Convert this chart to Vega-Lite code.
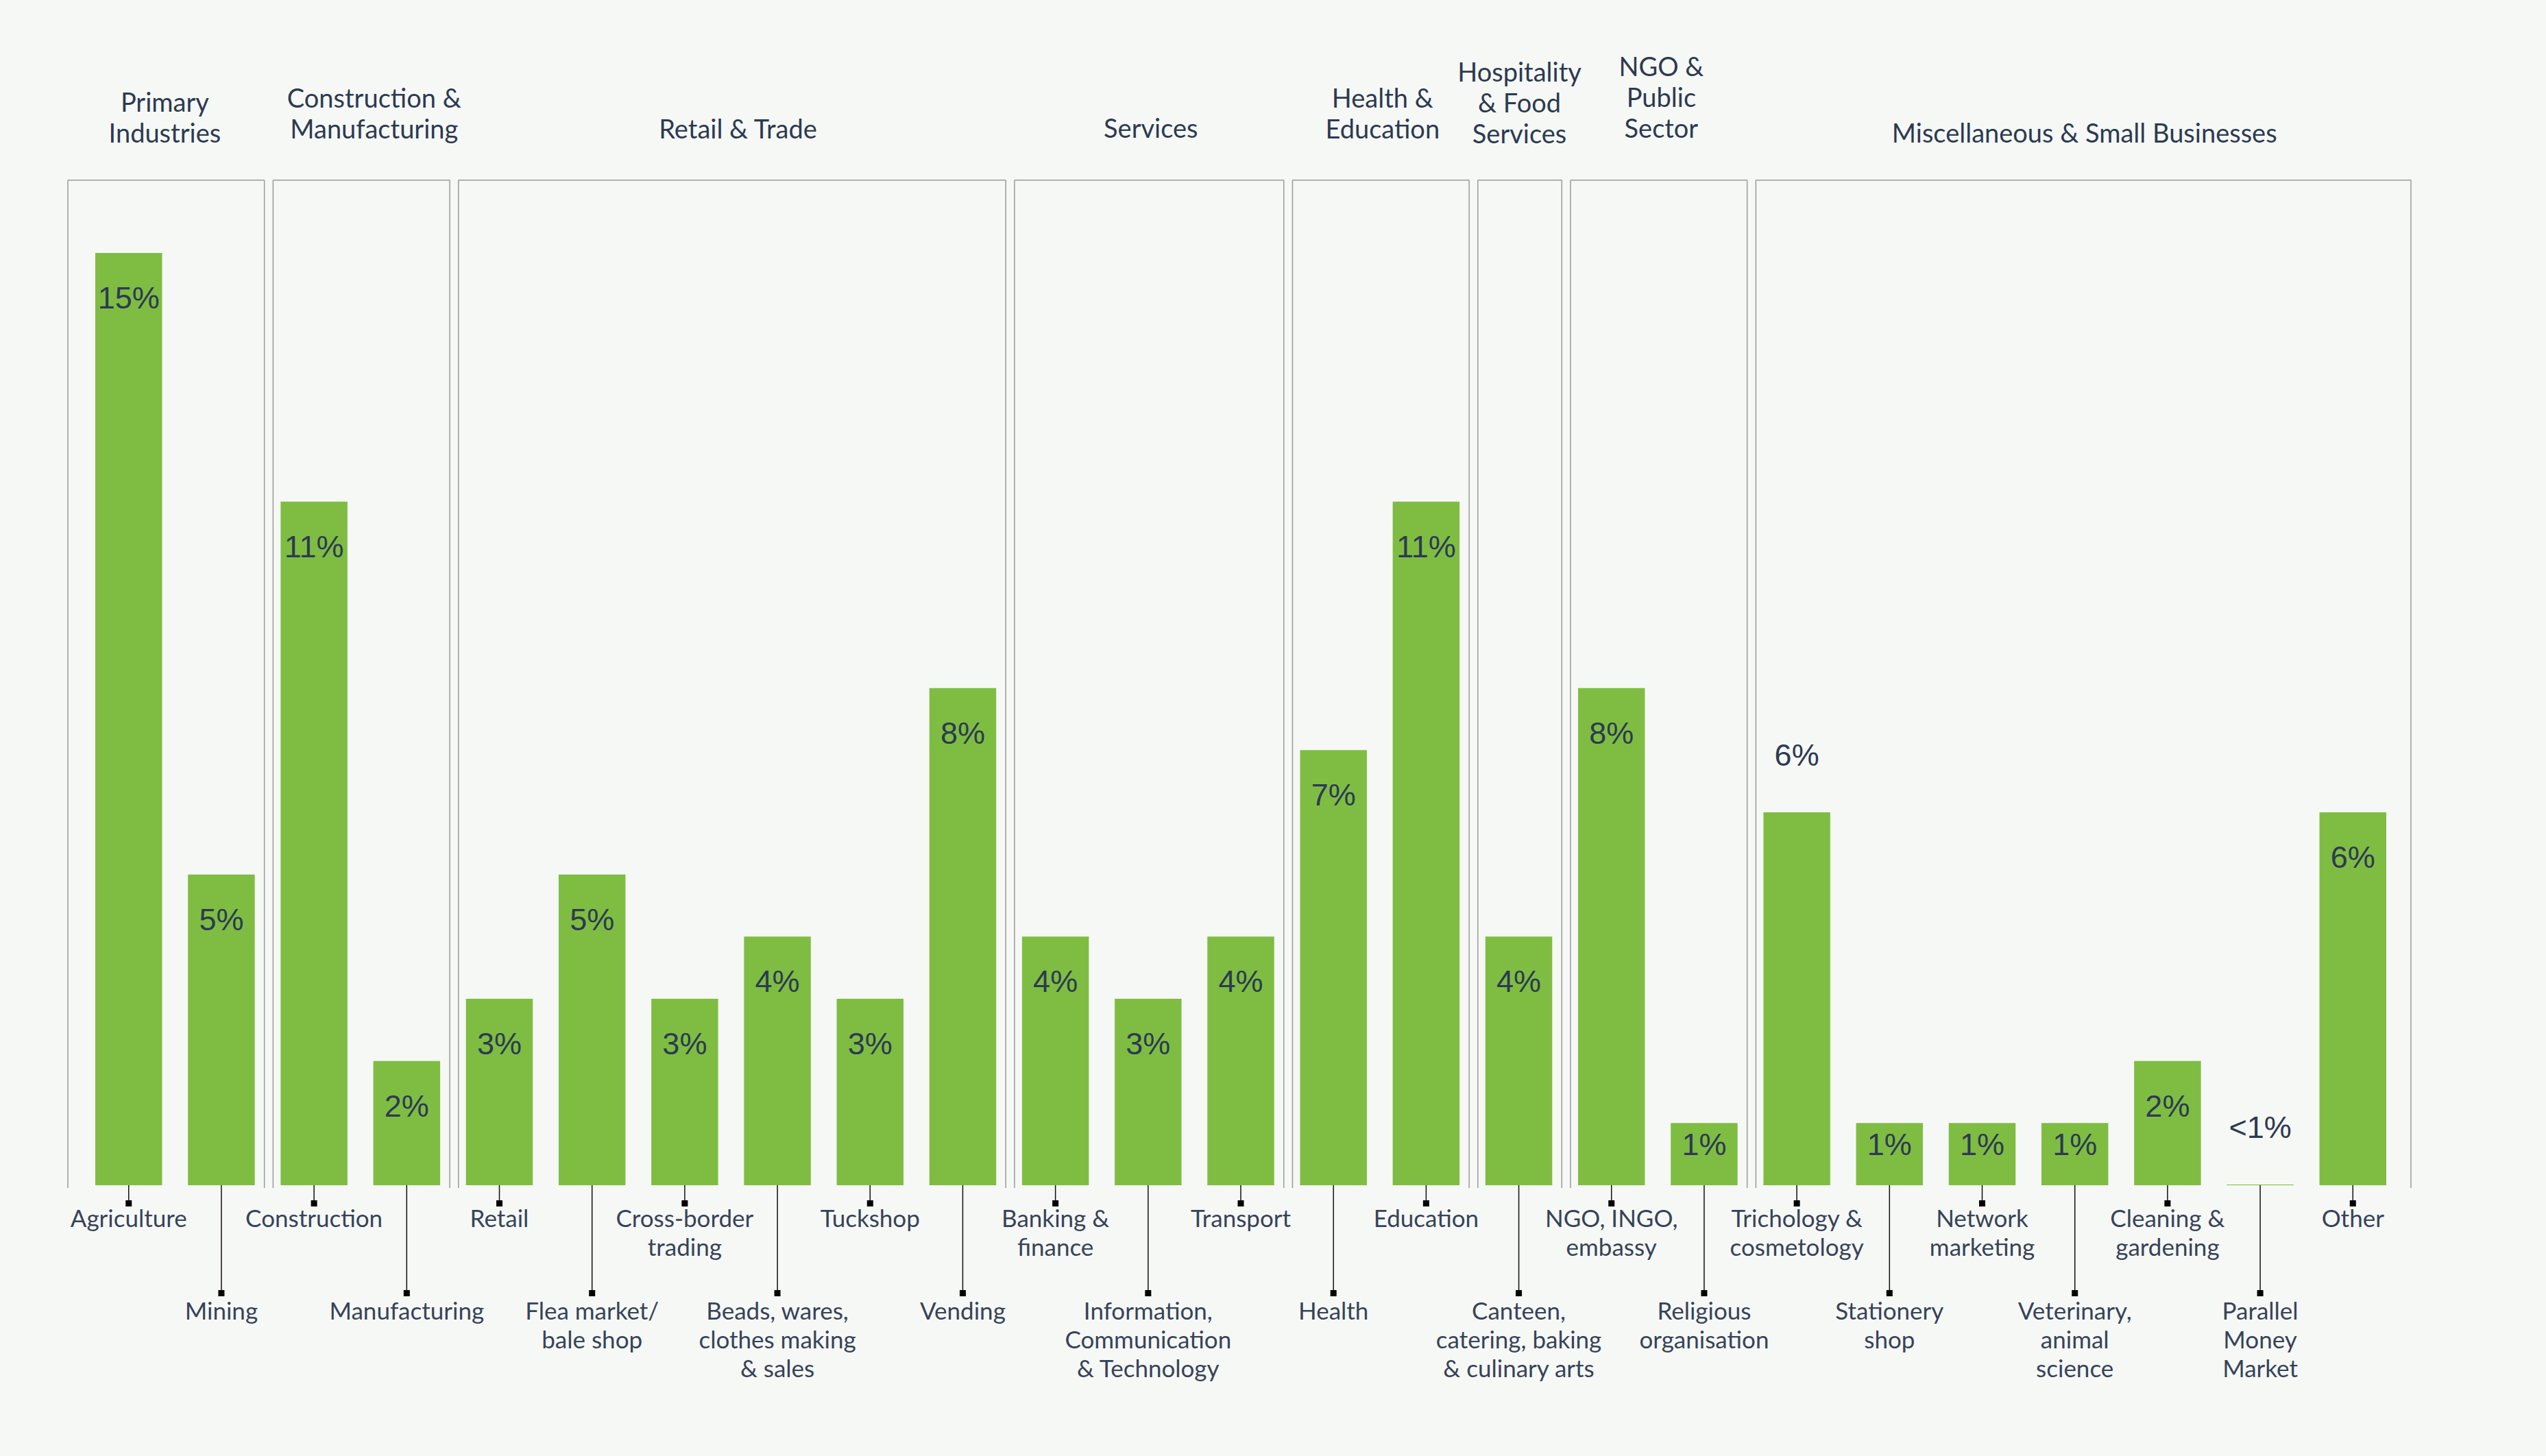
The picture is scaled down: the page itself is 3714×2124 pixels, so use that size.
{
  "$schema": "https://vega.github.io/schema/vega-lite/v6.json",
  "width": 3714,
  "height": 1729,
  "autosize": {"type": "none"},
  "padding": {"left": 0, "top": 0, "right": 0, "bottom": 395},
  "background": "#f6f8f5",
  "config": {"view": {"stroke": null}, "axis": {"disable": true}, "legend": {"disable": true}},
  "datasets": {
    "bars": [
      {"industry": "Agriculture", "label": "Agriculture", "group": "Primary Industries", "value": 15, "text": "15%"},
      {"industry": "Mining", "label": "Mining", "group": "Primary Industries", "value": 5, "text": "5%"},
      {"industry": "Construction", "label": "Construction", "group": "Construction & Manufacturing", "value": 11, "text": "11%"},
      {"industry": "Manufacturing", "label": "Manufacturing", "group": "Construction & Manufacturing", "value": 2, "text": "2%"},
      {"industry": "Retail", "label": "Retail", "group": "Retail & Trade", "value": 3, "text": "3%"},
      {"industry": "Flea market/bale shop", "label": "Flea market/\nbale shop", "group": "Retail & Trade", "value": 5, "text": "5%"},
      {"industry": "Cross-border trading", "label": "Cross-border\ntrading", "group": "Retail & Trade", "value": 3, "text": "3%"},
      {"industry": "Beads, wares, clothes making & sales", "label": "Beads, wares,\nclothes making\n& sales", "group": "Retail & Trade", "value": 4, "text": "4%"},
      {"industry": "Tuckshop", "label": "Tuckshop", "group": "Retail & Trade", "value": 3, "text": "3%"},
      {"industry": "Vending", "label": "Vending", "group": "Retail & Trade", "value": 8, "text": "8%"},
      {"industry": "Banking & finance", "label": "Banking &\nfinance", "group": "Services", "value": 4, "text": "4%"},
      {"industry": "Information, Communication & Technology", "label": "Information,\nCommunication\n& Technology", "group": "Services", "value": 3, "text": "3%"},
      {"industry": "Transport", "label": "Transport", "group": "Services", "value": 4, "text": "4%"},
      {"industry": "Health", "label": "Health", "group": "Health & Education", "value": 7, "text": "7%"},
      {"industry": "Education", "label": "Education", "group": "Health & Education", "value": 11, "text": "11%"},
      {"industry": "Canteen, catering, baking & culinary arts", "label": "Canteen,\ncatering, baking\n& culinary arts", "group": "Hospitality & Food Services", "value": 4, "text": "4%"},
      {"industry": "NGO, INGO, embassy", "label": "NGO, INGO,\nembassy", "group": "NGO & Public Sector", "value": 8, "text": "8%"},
      {"industry": "Religious organisation", "label": "Religious\norganisation", "group": "NGO & Public Sector", "value": 1, "text": "1%"},
      {"industry": "Trichology & cosmetology", "label": "Trichology &\ncosmetology", "group": "Miscellaneous & Small Businesses", "value": 6, "text": "6%"},
      {"industry": "Stationery shop", "label": "Stationery\nshop", "group": "Miscellaneous & Small Businesses", "value": 1, "text": "1%"},
      {"industry": "Network marketing", "label": "Network\nmarketing", "group": "Miscellaneous & Small Businesses", "value": 1, "text": "1%"},
      {"industry": "Veterinary, animal science", "label": "Veterinary,\nanimal\nscience", "group": "Miscellaneous & Small Businesses", "value": 1, "text": "1%"},
      {"industry": "Cleaning & gardening", "label": "Cleaning &\ngardening", "group": "Miscellaneous & Small Businesses", "value": 2, "text": "2%"},
      {"industry": "Parallel Money Market", "label": "Parallel\nMoney\nMarket", "group": "Miscellaneous & Small Businesses", "value": 0.01, "text": "<1%"},
      {"industry": "Other", "label": "Other", "group": "Miscellaneous & Small Businesses", "value": 6, "text": "6%"}
    ],
    "groups": [
      {"group": "Primary Industries", "first": "Agriculture", "last": "Mining", "center": "Mining", "header": "Primary\nIndustries"},
      {"group": "Construction & Manufacturing", "first": "Construction", "last": "Manufacturing", "center": "Manufacturing", "header": "Construction &\nManufacturing"},
      {"group": "Retail & Trade", "first": "Retail", "last": "Vending", "center": "Beads, wares, clothes making & sales", "header": "Retail & Trade"},
      {"group": "Services", "first": "Banking & finance", "last": "Transport", "center": "Information, Communication & Technology", "header": "Services"},
      {"group": "Health & Education", "first": "Health", "last": "Education", "center": "Education", "header": "Health &\nEducation"},
      {"group": "Hospitality & Food Services", "first": "Canteen, catering, baking & culinary arts", "last": "Canteen, catering, baking & culinary arts", "center": "Canteen, catering, baking & culinary arts", "header": "Hospitality\n& Food\nServices"},
      {"group": "NGO & Public Sector", "first": "NGO, INGO, embassy", "last": "Religious organisation", "center": "Religious organisation", "header": "NGO &\nPublic\nSector"},
      {"group": "Miscellaneous & Small Businesses", "first": "Trichology & cosmetology", "last": "Other", "center": "Veterinary, animal science", "header": "Miscellaneous & Small Businesses"}
    ]
  },
  "data": {"name": "bars"},
  "layer": [
    {
      "mark": {"type": "bar", "color": "#7fbd42"},
      "encoding": {
        "x": {"field": "industry", "type": "nominal", "axis": null,
          "scale": {"domain": ["Agriculture", "Mining", "Construction", "Manufacturing", "Retail", "Flea market/bale shop", "Cross-border trading", "Beads, wares, clothes making & sales", "Tuckshop", "Vending", "Banking & finance", "Information, Communication & Technology", "Transport", "Health", "Education", "Canteen, catering, baking & culinary arts", "NGO, INGO, embassy", "Religious organisation", "Trichology & cosmetology", "Stationery shop", "Network marketing", "Veterinary, animal science", "Cleaning & gardening", "Parallel Money Market", "Other"],
            "range": [139, 3481], "paddingInner": 0.279, "paddingOuter": 0}},
        "y": {"field": "value", "type": "quantitative", "axis": null, "scale": {"domain": [0, 19.07], "nice": false, "zero": true}}
      }
    },
    {
      "transform": [{"filter": "datum.value >= 1.5 && datum.industry != 'Trichology & cosmetology'"}],
      "mark": {"type": "text", "font": "Liberation Sans", "fontSize": 45, "color": "#2c3a52", "baseline": "middle", "dy": 67},
      "encoding": {
        "x": {"field": "industry", "type": "nominal", "bandPosition": 0.5},
        "y": {"field": "value", "type": "quantitative"},
        "text": {"field": "text"}
      }
    },
    {
      "transform": [{"filter": "datum.value >= 0.5 && datum.value < 1.5"}],
      "mark": {"type": "text", "font": "Liberation Sans", "fontSize": 45, "color": "#2c3a52", "baseline": "middle", "dy": 33},
      "encoding": {
        "x": {"field": "industry", "type": "nominal", "bandPosition": 0.5},
        "y": {"field": "value", "type": "quantitative"},
        "text": {"field": "text"}
      }
    },
    {
      "transform": [{"filter": "datum.value < 0.5 || datum.industry == 'Trichology & cosmetology'"}],
      "mark": {"type": "text", "font": "Liberation Sans", "fontSize": 45, "color": "#2c3a52", "baseline": "middle", "dy": -82},
      "encoding": {
        "x": {"field": "industry", "type": "nominal", "bandPosition": 0.5},
        "y": {"field": "value", "type": "quantitative"},
        "text": {"field": "text"}
      }
    },
    {
      "transform": [{"filter": "indexof(['Mining','Manufacturing','Flea market/bale shop','Beads, wares, clothes making & sales','Vending','Information, Communication & Technology','Health','Canteen, catering, baking & culinary arts','Religious organisation','Stationery shop','Veterinary, animal science','Parallel Money Market'], datum.industry) < 0"}],
      "layer": [
        {
          "mark": {"type": "rule", "color": "#111111", "strokeWidth": 1.5},
          "encoding": {
            "x": {"field": "industry", "type": "nominal", "bandPosition": 0.5},
            "y": {"datum": 0, "type": "quantitative"},
            "y2": {"datum": -0.2923}
          }
        },
        {
          "mark": {"type": "square", "color": "#000000", "size": 81, "opacity": 1},
          "encoding": {
            "x": {"field": "industry", "type": "nominal", "bandPosition": 0.5},
            "y": {"datum": -0.2923, "type": "quantitative"}
          }
        },
        {
          "mark": {"type": "text", "font": "Lato", "fontSize": 35, "color": "#36435a", "baseline": "alphabetic", "align": "center", "lineBreak": "\n", "lineHeight": 42},
          "encoding": {
            "x": {"field": "industry", "type": "nominal", "bandPosition": 0.5},
            "y": {"datum": -0.6728, "type": "quantitative"},
            "text": {"field": "label"}
          }
        }
      ]
    },
    {
      "transform": [{"filter": "indexof(['Mining','Manufacturing','Flea market/bale shop','Beads, wares, clothes making & sales','Vending','Information, Communication & Technology','Health','Canteen, catering, baking & culinary arts','Religious organisation','Stationery shop','Veterinary, animal science','Parallel Money Market'], datum.industry) >= 0"}],
      "layer": [
        {
          "mark": {"type": "rule", "color": "#111111", "strokeWidth": 1.5},
          "encoding": {
            "x": {"field": "industry", "type": "nominal", "bandPosition": 0.5},
            "y": {"datum": 0, "type": "quantitative"},
            "y2": {"datum": -1.7371}
          }
        },
        {
          "mark": {"type": "square", "color": "#000000", "size": 81, "opacity": 1},
          "encoding": {
            "x": {"field": "industry", "type": "nominal", "bandPosition": 0.5},
            "y": {"datum": -1.7371, "type": "quantitative"}
          }
        },
        {
          "mark": {"type": "text", "font": "Lato", "fontSize": 35, "color": "#36435a", "baseline": "alphabetic", "align": "center", "lineBreak": "\n", "lineHeight": 42},
          "encoding": {
            "x": {"field": "industry", "type": "nominal", "bandPosition": 0.5},
            "y": {"datum": -2.1618, "type": "quantitative"},
            "text": {"field": "label"}
          }
        }
      ]
    },
    {
      "data": {"name": "groups"},
      "transform": [{"filter": "datum.group != 'Primary Industries'"}],
      "mark": {"type": "rule", "color": "#9a9a9a", "strokeWidth": 1.5, "xOffset": -11},
      "encoding": {
        "x": {"field": "first", "type": "nominal", "bandPosition": 0},
        "y": {"datum": 16.173, "type": "quantitative"},
        "y2": {"datum": -0.0441}
      }
    },
    {
      "data": {"name": "groups"},
      "transform": [{"filter": "datum.group == 'Primary Industries'"}],
      "mark": {"type": "rule", "color": "#9a9a9a", "strokeWidth": 1.5, "xOffset": -40},
      "encoding": {
        "x": {"field": "first", "type": "nominal", "bandPosition": 0},
        "y": {"datum": 16.173, "type": "quantitative"},
        "y2": {"datum": -0.0441}
      }
    },
    {
      "data": {"name": "groups"},
      "transform": [{"filter": "datum.group != 'Miscellaneous & Small Businesses'"}],
      "mark": {"type": "rule", "color": "#9a9a9a", "strokeWidth": 1.5, "xOffset": 14},
      "encoding": {
        "x": {"field": "last", "type": "nominal", "bandPosition": 1},
        "y": {"datum": 16.173, "type": "quantitative"},
        "y2": {"datum": -0.0441}
      }
    },
    {
      "data": {"name": "groups"},
      "transform": [{"filter": "datum.group == 'Miscellaneous & Small Businesses'"}],
      "mark": {"type": "rule", "color": "#9a9a9a", "strokeWidth": 1.5, "xOffset": 36},
      "encoding": {
        "x": {"field": "last", "type": "nominal", "bandPosition": 1},
        "y": {"datum": 16.173, "type": "quantitative"},
        "y2": {"datum": -0.0441}
      }
    },
    {
      "data": {"name": "groups"},
      "transform": [{"filter": "datum.group != 'Primary Industries' && datum.group != 'Miscellaneous & Small Businesses'"}],
      "mark": {"type": "rule", "color": "#9a9a9a", "strokeWidth": 1.5, "xOffset": -11, "x2Offset": 14},
      "encoding": {
        "x": {"field": "first", "type": "nominal", "bandPosition": 0},
        "x2": {"field": "last", "bandPosition": 1},
        "y": {"datum": 16.173, "type": "quantitative"}
      }
    },
    {
      "data": {"name": "groups"},
      "transform": [{"filter": "datum.group == 'Primary Industries'"}],
      "mark": {"type": "rule", "color": "#9a9a9a", "strokeWidth": 1.5, "xOffset": -40, "x2Offset": 14},
      "encoding": {
        "x": {"field": "first", "type": "nominal", "bandPosition": 0},
        "x2": {"field": "last", "bandPosition": 1},
        "y": {"datum": 16.173, "type": "quantitative"}
      }
    },
    {
      "data": {"name": "groups"},
      "transform": [{"filter": "datum.group == 'Miscellaneous & Small Businesses'"}],
      "mark": {"type": "rule", "color": "#9a9a9a", "strokeWidth": 1.5, "xOffset": -11, "x2Offset": 36},
      "encoding": {
        "x": {"field": "first", "type": "nominal", "bandPosition": 0},
        "x2": {"field": "last", "bandPosition": 1},
        "y": {"datum": 16.173, "type": "quantitative"}
      }
    },
    {
      "data": {"name": "groups"},
      "transform": [{"filter": "datum.group == 'Services'"}],
      "mark": {"type": "text", "font": "Lato", "fontSize": 38, "color": "#2c3a52", "baseline": "alphabetic", "align": "center", "lineBreak": "\n", "lineHeight": 45, "dx": 4},
      "encoding": {
        "x": {"field": "center", "type": "nominal", "bandPosition": 0.5},
        "y": {"datum": 16.853, "type": "quantitative"},
        "text": {"field": "header"}
      }
    },
    {
      "data": {"name": "groups"},
      "transform": [{"filter": "datum.group == 'Miscellaneous & Small Businesses'"}],
      "mark": {"type": "text", "font": "Lato", "fontSize": 38, "color": "#2c3a52", "baseline": "alphabetic", "align": "center", "lineBreak": "\n", "lineHeight": 45, "dx": 14},
      "encoding": {
        "x": {"field": "center", "type": "nominal", "bandPosition": 0.5},
        "y": {"datum": 16.776, "type": "quantitative"},
        "text": {"field": "header"}
      }
    },
    {
      "data": {"name": "groups"},
      "transform": [{"filter": "datum.group == 'Hospitality & Food Services'"}],
      "mark": {"type": "text", "font": "Lato", "fontSize": 38, "color": "#2c3a52", "baseline": "alphabetic", "align": "center", "lineBreak": "\n", "lineHeight": 45, "dx": 1},
      "encoding": {
        "x": {"field": "center", "type": "nominal", "bandPosition": 0.5},
        "y": {"datum": 17.757, "type": "quantitative"},
        "text": {"field": "header"}
      }
    },
    {
      "data": {"name": "groups"},
      "transform": [{"filter": "datum.group == 'Retail & Trade'"}],
      "mark": {"type": "text", "font": "Lato", "fontSize": 38, "color": "#2c3a52", "baseline": "alphabetic", "align": "center", "lineBreak": "\n", "lineHeight": 45, "dx": 10},
      "encoding": {
        "x": {"field": "center", "type": "nominal", "bandPosition": -0.193},
        "y": {"datum": 16.842, "type": "quantitative"},
        "text": {"field": "header"}
      }
    },
    {
      "data": {"name": "groups"},
      "transform": [{"filter": "datum.group == 'Construction & Manufacturing'"}],
      "mark": {"type": "text", "font": "Lato", "fontSize": 38, "color": "#2c3a52", "baseline": "alphabetic", "align": "center", "lineBreak": "\n", "lineHeight": 45, "dx": 20},
      "encoding": {
        "x": {"field": "center", "type": "nominal", "bandPosition": -0.193},
        "y": {"datum": 17.338, "type": "quantitative"},
        "text": {"field": "header"}
      }
    },
    {
      "data": {"name": "groups"},
      "transform": [{"filter": "datum.group == 'Health & Education'"}],
      "mark": {"type": "text", "font": "Lato", "fontSize": 38, "color": "#2c3a52", "baseline": "alphabetic", "align": "center", "lineBreak": "\n", "lineHeight": 45, "dx": 4},
      "encoding": {
        "x": {"field": "center", "type": "nominal", "bandPosition": -0.193},
        "y": {"datum": 17.338, "type": "quantitative"},
        "text": {"field": "header"}
      }
    },
    {
      "data": {"name": "groups"},
      "transform": [{"filter": "datum.group == 'NGO & Public Sector'"}],
      "mark": {"type": "text", "font": "Lato", "fontSize": 38, "color": "#2c3a52", "baseline": "alphabetic", "align": "center", "lineBreak": "\n", "lineHeight": 45, "dx": 5},
      "encoding": {
        "x": {"field": "center", "type": "nominal", "bandPosition": -0.193},
        "y": {"datum": 17.845, "type": "quantitative"},
        "text": {"field": "header"}
      }
    },
    {
      "data": {"name": "groups"},
      "transform": [{"filter": "datum.group == 'Primary Industries'"}],
      "mark": {"type": "text", "font": "Lato", "fontSize": 38, "color": "#2c3a52", "baseline": "alphabetic", "align": "center", "lineBreak": "\n", "lineHeight": 45, "dx": -15},
      "encoding": {
        "x": {"field": "center", "type": "nominal", "bandPosition": -0.193},
        "y": {"datum": 17.272, "type": "quantitative"},
        "text": {"field": "header"}
      }
    }
  ]
}
